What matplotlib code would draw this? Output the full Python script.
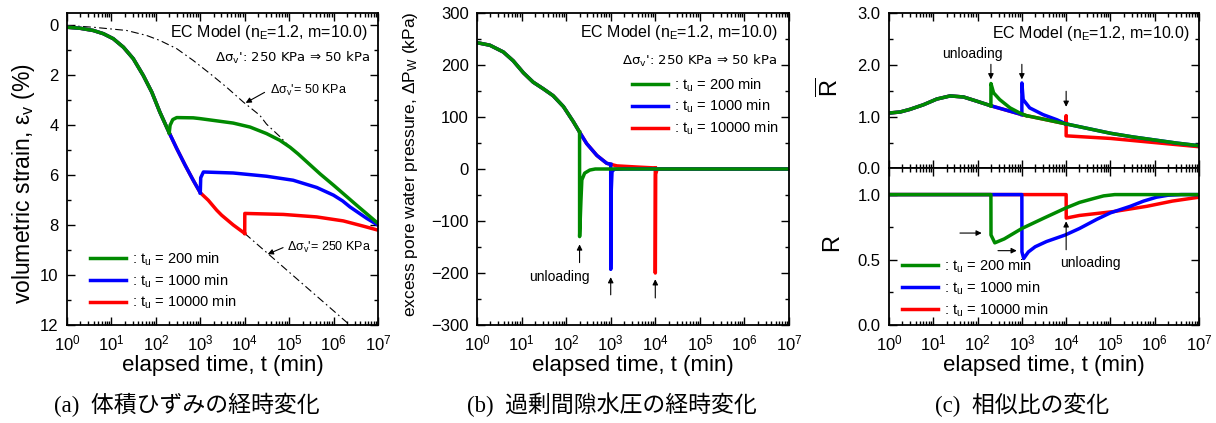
import numpy as np
import matplotlib
matplotlib.use('Agg')
import matplotlib.pyplot as plt
from matplotlib.ticker import MultipleLocator, LogLocator, NullFormatter

plt.rcParams['font.family'] = ['Liberation Sans', 'DejaVu Sans']
plt.rcParams['mathtext.fontset'] = 'custom'
plt.rcParams['mathtext.rm'] = 'Liberation Sans'
plt.rcParams['mathtext.default'] = 'regular'

GREEN = '#008a00'
BLUE = '#0000ff'
RED = '#ff0000'

# ---- (a) volumetric strain, eps_v (%) ----
t_load = [1, 1.95, 3.9, 6.6, 11, 18.6, 31, 52, 81, 123, 200, 295, 457, 692, 1000,
          1510, 2340, 3020, 5500, 10000]
eps_load = [0.07, 0.11, 0.2, 0.33, 0.53, 0.87, 1.33, 2.0, 2.67, 3.47, 4.3, 4.93, 5.6,
            6.2, 6.7, 7.0, 7.4, 7.6, 7.99, 8.33]

t_a200 = [200, 209, 240, 295, 692, 977, 5500, 13200, 30900, 61700, 1.05e5, 1.6e5,
          2.45e5, 5e5, 1e6, 3.3e6, 1e7]
eps_a200 = [4.3, 4.0, 3.77, 3.69, 3.70, 3.73, 3.91, 4.07, 4.33, 4.6, 4.88, 5.15,
            5.45, 5.95, 6.4, 7.2, 7.93]

t_a1000 = [1000, 1023, 1175, 5500, 30900, 1.23e5, 4.17e5, 1e6, 1.6e6, 2.34e6, 5.6e6, 1e7]
eps_a1000 = [6.7, 6.1, 5.87, 5.91, 6.04, 6.2, 6.49, 6.8, 7.03, 7.27, 7.73, 8.0]

t_a10000 = [10000, 10050, 74000, 4.17e5, 1.66e6, 4.68e6, 1e7]
eps_a10000 = [8.33, 7.53, 7.57, 7.67, 7.83, 8.04, 8.2]

# reference lines for constant load
t_ref50 = [1, 3.9, 22, 62, 123, 295, 692, 1660, 3890, 9330, 21900, 30900, 61700,
           1.05e5, 1.6e5, 2.45e5, 5e5, 1e6, 3.3e6, 1e7]
eps_ref50 = [0.0, 0.07, 0.2, 0.4, 0.6, 0.93, 1.4, 1.93, 2.47, 3.07, 3.6, 3.95, 4.45,
             4.88, 5.15, 5.45, 5.95, 6.4, 7.2, 7.93]
t_ref250 = [10000, 2e6, 1e7]
eps_ref250 = [8.33, 11.9, 13.0]

# ---- (b) excess pore water pressure (kPa) ----
t_pw = [1, 1.95, 3.9, 6.5, 11, 18.2, 31, 51, 87, 145, 200, 288, 490, 813, 1000,
        1380, 3890, 10000, 21900, 1e5, 1e7]
pw = [243, 238, 225, 208, 185, 167, 154, 141, 120, 91, 71, 49, 26, 11, 9, 6, 3.8,
      2.0, 1.2, 0.3, 0.0]

t_b200 = [200, 200.5, 215, 225, 260, 340, 450, 1e7]
pw_b200 = [71, -130, -60, -21, -8, -2, 0, 0]
t_b1000 = [1000, 1001, 1030, 1070, 1200, 2000, 1e7]
pw_b1000 = [9, -193, -40, -5, -0.5, 0, 0]
t_b10000 = [10000, 10010, 10200, 11000, 1e7]
pw_b10000 = [2.0, -200, -10, 0, 0]

# ---- (c) similarity ratio ----
t_rb = [1, 1.78, 2.95, 6.0, 12, 24, 48, 95, 200, 1000, 1260, 3160, 10000, 31600,
        1e5, 3.16e5, 1e6, 3.16e6, 1e7]
rb = [1.07, 1.09, 1.14, 1.23, 1.34, 1.40, 1.38, 1.30, 1.21, 1.04, 1.02, 0.95, 0.86,
      0.77, 0.68, 0.61, 0.55, 0.49, 0.44]

t_rb200 = [200, 200.5, 230, 316, 540, 900, 1260]
rb200 = [1.21, 1.64, 1.46, 1.33, 1.17, 1.07, 1.02]
t_rb1000 = [1000, 1002, 1070, 1500, 3000, 6200, 10000]
rb1000 = [1.04, 1.65, 1.33, 1.17, 1.04, 0.94, 0.86]
t_rb10000 = [10000, 10001, 10002, 1e5, 1e6, 1e7]
rb10000 = [0.86, 1.02, 0.63, 0.58, 0.50, 0.42]

t_r200 = [1, 200, 201, 245, 400, 1000, 3160, 9500, 20000, 42000, 70000, 1.25e5, 1e7]
r200 = [1.0, 1.0, 0.69, 0.63, 0.66, 0.74, 0.82, 0.895, 0.94, 0.97, 0.99, 1.0, 1.0]
t_r1000 = [1, 1000, 1005, 1100, 1400, 2000, 3600, 9500, 20000, 49000, 1e5, 2.8e5,
           5.6e5, 1.1e6, 2e6, 4e6, 1e7]
r1000 = [1.0, 1.0, 0.56, 0.51, 0.56, 0.60, 0.64, 0.69, 0.74, 0.81, 0.86, 0.91,
         0.95, 0.98, 0.995, 1.0, 1.0]
t_r10000 = [1, 10000, 10050, 20000, 1.2e5, 6.6e5, 2.5e6, 1e7]
r10000 = [1.0, 1.0, 0.82, 0.84, 0.87, 0.91, 0.95, 0.98]

labels = [': t$_{u}$ = 200 min', ': t$_{u}$ = 1000 min', ': t$_{u}$ = 10000 min']
LW = 2.5


def upto(t, y, tu):
    t = np.asarray(t, float)
    y = np.asarray(y, float)
    return t[t <= tu], y[t <= tu]


def after(t, y, ts):
    t = np.asarray(t, float)
    y = np.asarray(y, float)
    return t[t >= ts], y[t >= ts]


def style_axis(ax):
    ax.set_xscale('log')
    ax.set_xlim(1, 1e7)
    ax.xaxis.set_major_locator(LogLocator(base=10, numticks=10))
    ax.xaxis.set_minor_locator(LogLocator(base=10, subs=np.arange(2, 10), numticks=20))
    ax.xaxis.set_minor_formatter(NullFormatter())
    ax.tick_params(which='both', direction='in', top=True, right=True, width=1.0)
    ax.tick_params(which='major', length=6, labelsize=12, pad=6)
    ax.tick_params(which='minor', length=3)
    for s in ax.spines.values():
        s.set_linewidth(1.3)


def arrow(ax, head, tail):
    ax.annotate('', xy=head, xytext=tail,
                arrowprops=dict(arrowstyle='-|>', color='k', lw=0.8,
                                mutation_scale=8, shrinkA=0, shrinkB=0))


def add_legend(ax, anchor):
    h, l = ax.get_legend_handles_labels()
    order = [l.index(s) for s in labels]
    ax.legend([h[i] for i in order], [l[i] for i in order], loc='center left',
              bbox_to_anchor=anchor, frameon=False, fontsize=10.5,
              handlelength=2.45, handletextpad=0.45, labelspacing=0.3,
              borderpad=0, borderaxespad=0)


W, H = 1216, 423
fig = plt.figure(figsize=(W / 100, H / 100), dpi=100)


def box(x0, y0, x1, y1):
    return [x0 / W, (H - y1) / H, (x1 - x0) / W, (y1 - y0) / H]


caption_font = ['Liberation Serif', 'Noto Sans CJK JP']
load_text = "Δσ$_{v}$': 250 KPa ⇒ 50 kPa"
xlabel = 'elapsed time, t (min)'

# (a)
ax = fig.add_axes(box(67, 13, 378, 325))
style_axis(ax)
ax.plot(t_ref50, eps_ref50, color='k', lw=0.8, dashes=(7, 3, 1.5, 3))
ax.plot(t_ref250, eps_ref250, color='k', lw=0.8, dashes=(7, 3, 1.5, 3))
ax.plot(*upto(t_load, eps_load, 10000), color=RED, lw=LW)
ax.plot(t_a10000, eps_a10000, color=RED, lw=LW, label=labels[2])
ax.plot(*upto(t_load, eps_load, 1000), color=BLUE, lw=LW)
ax.plot(t_a1000, eps_a1000, color=BLUE, lw=LW, label=labels[1])
ax.plot(*upto(t_load, eps_load, 200), color=GREEN, lw=LW)
ax.plot(t_a200, eps_a200, color=GREEN, lw=LW, label=labels[0])
ax.set_ylim(12, -0.5)
ax.yaxis.set_major_locator(MultipleLocator(2))
ax.yaxis.set_minor_locator(MultipleLocator(1))
ax.set_xlabel(xlabel, fontsize=16, labelpad=1)
ax.set_ylabel('volumetric strain, ε$_{v}$ (%)', fontsize=16.5)
ax.yaxis.set_label_coords(-0.097, 0.452)
ax.text(0.968, 0.936, 'EC Model (n$_{E}$=1.2, m=10.0)', transform=ax.transAxes,
        ha='right', va='center', fontsize=11.5)
ax.text(0.975, 0.856, load_text, transform=ax.transAxes,
        ha='right', va='center', fontsize=9.5, family='DejaVu Sans')
ax.text(3.7e4, 2.6, "Δσ$_{v}$'= 50 KPa", ha='left', va='center', fontsize=9)
arrow(ax, (1.05e4, 3.1), (2.8e4, 2.68))
ax.text(8.9e4, 8.88, "Δσ$_{v}$'= 250 KPa", ha='left', va='center', fontsize=9)
arrow(ax, (3.3e4, 9.16), (7.3e4, 8.9))
add_legend(ax, (0.074, 0.141))
fig.text(187 / W, (H - 405) / H, '(a)  体積ひずみの経時変化', ha='center', va='center',
         fontsize=16.5, family=caption_font)

# (b)
ax = fig.add_axes(box(477, 13, 789, 325))
style_axis(ax)
ax.plot(*upto(t_pw, pw, 10000), color=RED, lw=LW)
ax.plot(t_b10000, pw_b10000, color=RED, lw=LW, label=labels[2])
ax.plot(*upto(t_pw, pw, 1000), color=BLUE, lw=LW)
ax.plot(t_b1000, pw_b1000, color=BLUE, lw=LW, label=labels[1])
ax.plot(*upto(t_pw, pw, 200), color=GREEN, lw=LW)
ax.plot(t_b200, pw_b200, color=GREEN, lw=LW, label=labels[0])
ax.set_ylim(-300, 300)
ax.yaxis.set_major_locator(MultipleLocator(100))
ax.yaxis.set_minor_locator(MultipleLocator(50))
ax.set_xlabel(xlabel, fontsize=16, labelpad=1)
ax.set_ylabel('excess pore water pressure, ΔP$_{W}$ (kPa)', fontsize=12.5)
ax.yaxis.set_label_coords(-0.183, 0.515)
ax.text(0.965, 0.936, 'EC Model (n$_{E}$=1.2, m=10.0)', transform=ax.transAxes,
        ha='right', va='center', fontsize=11.5)
ax.text(0.962, 0.847, load_text, transform=ax.transAxes,
        ha='right', va='center', fontsize=9.5, family='DejaVu Sans')
arrow(ax, (200, -145), (200, -180))
arrow(ax, (1000, -208), (1000, -242))
arrow(ax, (10000, -212), (10000, -248))
ax.text(69, -207, 'unloading', ha='center', va='center', fontsize=10)
add_legend(ax, (0.497, 0.70))
fig.text(612 / W, (H - 405) / H, '(b)  過剰間隙水圧の経時変化', ha='center', va='center',
         fontsize=16.5, family=caption_font)

# (c) upper: R-bar
ax = fig.add_axes(box(889, 13, 1199, 168.5))
style_axis(ax)
ax.tick_params(labelbottom=False)
ax.plot(*upto(t_rb, rb, 10000), color=RED, lw=LW)
ax.plot(t_rb10000, rb10000, color=RED, lw=LW)
ax.plot(*upto(t_rb, rb, 1000), color=BLUE, lw=LW)
ax.plot(t_rb1000, rb1000, color=BLUE, lw=LW)
ax.plot(*after(t_rb, rb, 10000), color=BLUE, lw=LW)
ax.plot(*upto(t_rb, rb, 200), color=GREEN, lw=LW)
ax.plot(t_rb200, rb200, color=GREEN, lw=LW)
ax.plot(*after(t_rb, rb, 1260), color=GREEN, lw=LW)
ax.set_ylim(0, 3)
ax.yaxis.set_major_locator(MultipleLocator(1))
ax.yaxis.set_minor_locator(MultipleLocator(0.5))
ax.yaxis.set_major_formatter(plt.FormatStrFormatter('%.1f'))
ax.set_ylabel(r'$\overline{R}$', fontsize=17)
ax.yaxis.set_label_coords(-0.148, 0.518)
ax.text(0.971, 0.871, 'EC Model (n$_{E}$=1.2, m=10.0)', transform=ax.transAxes,
        ha='right', va='center', fontsize=11.5)
arrow(ax, (200, 1.72), (200, 2.01))
arrow(ax, (1000, 1.72), (1000, 2.01))
arrow(ax, (10000, 1.19), (10000, 1.49))
ax.text(75, 2.21, 'unloading', ha='center', va='center', fontsize=10)

# (c) lower: R
ax = fig.add_axes(box(889, 168.5, 1199, 325))
style_axis(ax)
ax.plot(t_r10000, r10000, color=RED, lw=LW, label=labels[2])
ax.plot(t_r1000, r1000, color=BLUE, lw=LW, label=labels[1])
ax.plot(t_r200, r200, color=GREEN, lw=LW, label=labels[0])
ax.set_ylim(0, 1.2)
ax.yaxis.set_major_locator(MultipleLocator(0.5))
ax.yaxis.set_minor_locator(MultipleLocator(0.25))
ax.yaxis.set_major_formatter(plt.FormatStrFormatter('%.1f'))
ax.set_xlabel(xlabel, fontsize=16, labelpad=1)
ax.set_ylabel('R', fontsize=17)
ax.yaxis.set_label_coords(-0.148, 0.53)
arrow(ax, (124, 0.705), (40, 0.705))
arrow(ax, (767, 0.57), (289, 0.57))
arrow(ax, (10000, 0.795), (10000, 0.577))
ax.text(3.6e4, 0.477, 'unloading', ha='center', va='center', fontsize=10)
add_legend(ax, (0.042, 0.236))
fig.text(1022 / W, (H - 405) / H, '(c)  相似比の変化', ha='center', va='center',
         fontsize=16.5, family=caption_font)

fig.savefig('out.png', dpi=100)
